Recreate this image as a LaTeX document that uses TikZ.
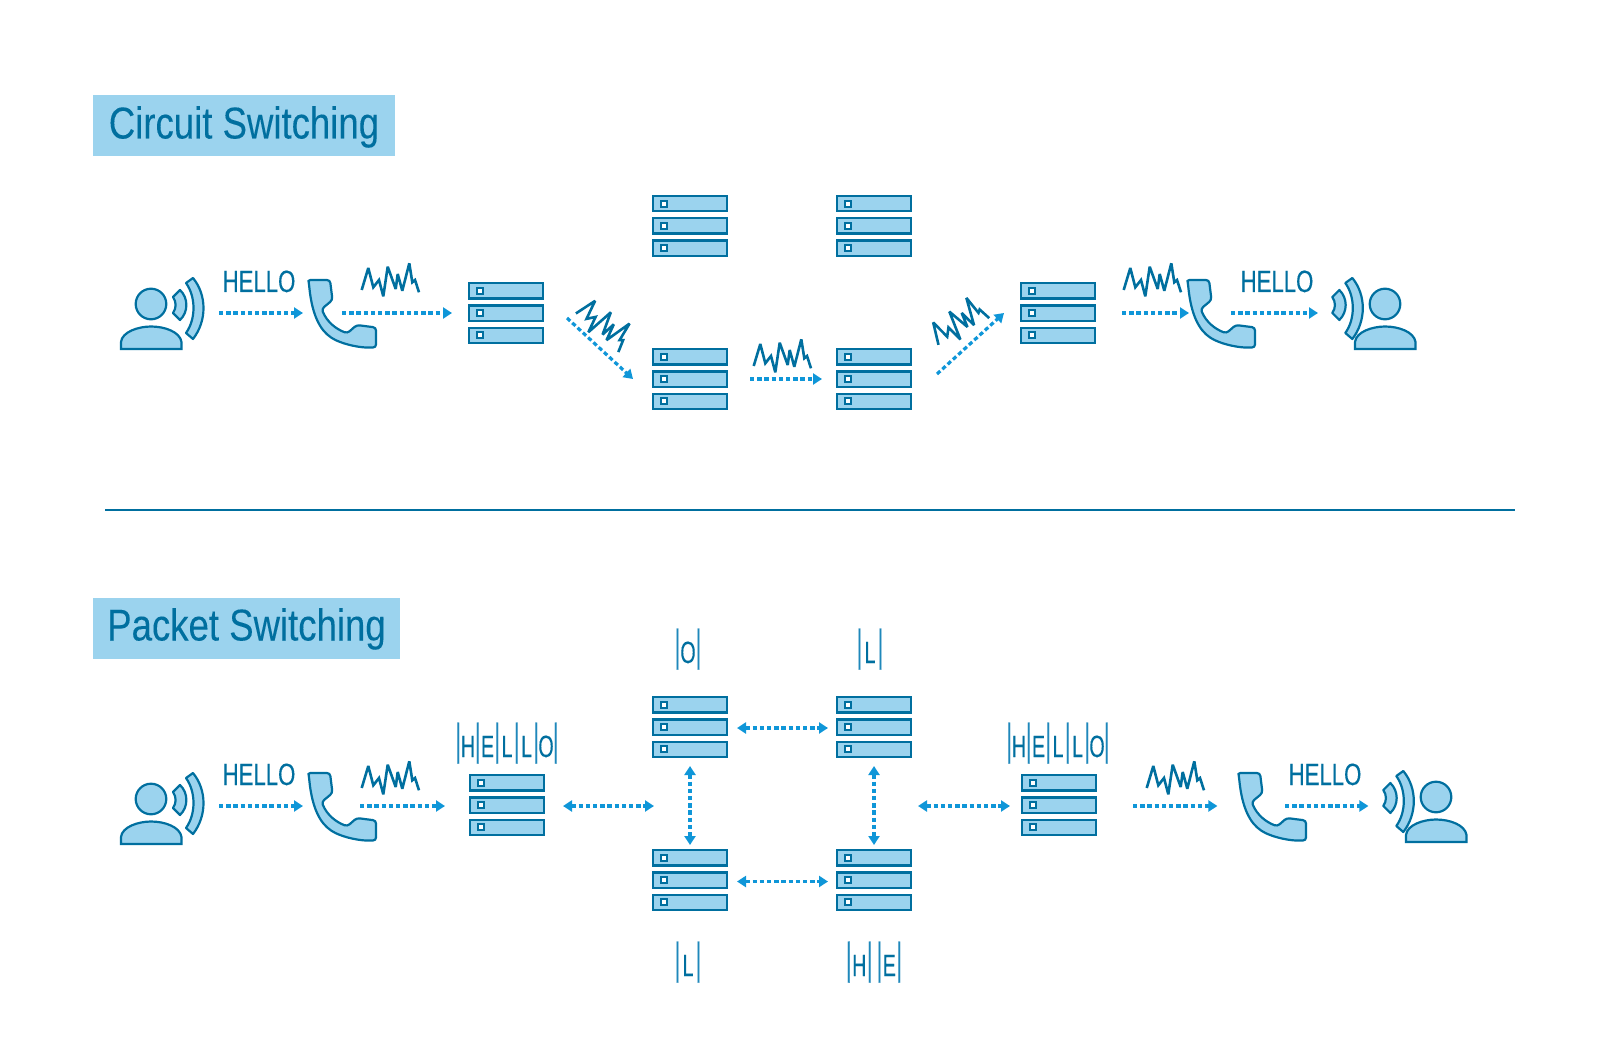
\documentclass[tikz,border=0pt]{standalone}
\usepackage{fontspec}
\usetikzlibrary{arrows.meta}
\newfontfamily\titlefont[FakeStretch=0.82,FakeBold=0.1]{Liberation Sans}
\newfontfamily\wordfont[FakeStretch=0.72,FakeBold=0.2]{Liberation Sans}
\newfontfamily\letterfont[FakeStretch=0.64,FakeBold=0.2]{Liberation Sans}
\newfontfamily\barfont[FakeStretch=0.5,FakeBold=0.2]{Liberation Sans}
\definecolor{darkblue}{HTML}{006F9F}
\definecolor{lightblue}{HTML}{9BD3EE}
\definecolor{flowblue}{HTML}{0F96D8}
\definecolor{barblue}{HTML}{1F88BB}
\newcommand{\pbar}{\raisebox{1.3pt}{\barfont\fontsize{22}{22}\selectfont\textcolor{barblue}{|}}}
\newcommand{\plet}[2][6.9pt]{\makebox[#1]{#2}}
\tikzset{
    iconline/.style={draw=darkblue, fill=lightblue, line width=1.1pt},
    flow/.style={draw=flowblue, line width=1.6pt, dash pattern=on 2.2pt off 1.4pt, -{Triangle[length=4.5pt,width=5.5pt]}},
    bothflow/.style={flow, {Triangle[length=4.5pt,width=5.5pt]}-{Triangle[length=4.5pt,width=5.5pt]}},
    heading/.style={fill=lightblue, text=darkblue, text height=21.5pt, text depth=9pt, inner sep=0pt, font=\titlefont\fontsize{22.3}{26}\selectfont},
    word/.style={anchor=base, text=darkblue, inner sep=0pt, font=\wordfont\fontsize{15.4}{18}\selectfont},
    packet/.style={anchor=base, text=darkblue, inner sep=0pt, font=\letterfont\fontsize{15.4}{18}\selectfont},
    iconbox/.style={minimum width=#1, minimum height=30pt, inner sep=0pt, outer sep=0pt},
    pics/serverstack/.style={code={
        \node[iconbox=38pt] (-box) at (0,0) {};
        \foreach \k in {-1,0,1}{
            \draw[iconline] (-37.2,\k*22.2-7.6) rectangle (37.2,\k*22.2+7.6);
            \draw[iconline, fill=white, line width=1.2pt] (-29,\k*22.2-3) rectangle (-23,\k*22.2+3);
        }
    }},
    pics/talker/.style={code={
        \node[iconbox=42pt] (-box) at (0,0) {};
        \draw[iconline] (-11,-9) circle (15.3);
        \draw[iconline] (-41,36) -- (-41,29) .. controls (-40,19) and (-24,13.5) .. (-11,13.5)
            .. controls (3,13.5) and (18,19) .. (19.5,29) -- (19.5,36) -- cycle;
        \begin{scope}[shift={(#1,0)}]
            \draw[iconline, line join=round] (11,-16) -- (18,-23) .. controls (26.5,-15) and (26.5,-1) .. (18,7) -- (11,0)
                .. controls (14.5,-5) and (14.5,-11) .. (11,-16) -- cycle;
            \draw[iconline, line join=round] (24,-30) -- (31,-35) .. controls (45,-18) and (45,8) .. (31,26) -- (24,20)
                .. controls (34,6) and (34,-16) .. (24,-30) -- cycle;
        \end{scope}
    }},
    pics/handset/.style={code={
        \node[iconbox=10pt] (-box) at (0,0) {};
        \draw[iconline, rounded corners=1.5pt] (-6,-33) -- (8,-33) -- (10.5,-13) -- (-0.3,-4)
            .. controls (5,9) and (14,16) .. (25.3,20.3) -- (34.7,12) -- (54,14.5) -- (54,34.5) -- (48,34.5)
            .. controls (38,34.5) and (24,32) .. (11.3,26) .. controls (-2,17) and (-10,2) .. (-13,-29)
            .. controls (-13.5,-32) and (-12,-33) .. (-8.5,-33) -- cycle;
    }},
    pics/noise/.style={code={
        \draw[draw=darkblue, line width=1.3pt, miter limit=3] (-28.3,10) -- (-21.7,-12) -- (-16.7,7.3) -- (-11,0) -- (-6.7,16.3)
            -- (-2.3,-13.3) -- (5.7,9) -- (7.7,-6) -- (12.3,10.7) -- (19.3,-16.7) -- (22.3,2.3) -- (25,0) -- (29,12.3);
    }}
}
\begin{document}
\begin{tikzpicture}[x=0.5pt,y=-0.5pt]
    \useasboundingbox (0,0) rectangle (1600,1059);
    \node[heading, minimum width=151pt] (circuit) at (244,126) {Circuit Switching};
    \node[heading, minimum width=153.5pt] (packet) at (246.5,628) {Packet Switching};
    \draw[draw=darkblue, line width=1pt] (105,510) -- (1515,510);

    \pic (userA) at (162,313) {talker=0};
    \pic (phoneA) at (322,313) {handset};
    \pic (srvA) at (506,313) {serverstack};
    \pic (srvB) at (690,226) {serverstack};
    \pic (srvC) at (874,226) {serverstack};
    \pic (srvD) at (690,379) {serverstack};
    \pic (srvE) at (874,379) {serverstack};
    \pic (srvF) at (1058,313) {serverstack};
    \pic (phoneB) at (1201,313) {handset};
    \pic (userB) at (1396,313) {talker=-74.7};
    \node[word] (helloA) at (259,292) {HELLO};
    \node[word] (helloB) at (1277,292) {HELLO};
    \pic at (390,280) {noise};
    \pic[rotate=-40] at (604,324) {noise};
    \pic at (782,356) {noise};
    \pic[rotate=30] at (958,322) {noise};
    \pic at (1152,280) {noise};
    \draw[flow] ([xshift=7.5pt]userA-box.east) -- ([xshift=-4.5pt]phoneA-box.west);
    \draw[flow] ([xshift=5pt]phoneA-box.east) -- ([xshift=-8pt]srvA-box.west);
    \draw[flow] ([shift={(23,5)}]srvA-box.east) -- ([shift={(-19,0)}]srvD-box.west);
    \draw[flow] ([xshift=11pt]srvD-box.east) -- ([xshift=-7pt]srvE-box.west);
    \draw[flow] ([shift={(25,-5)}]srvE-box.east) -- ([shift={(-16,0)}]srvF-box.west);
    \draw[flow] ([xshift=13pt]srvF-box.east) -- ([xshift=-1pt]phoneB-box.west);
    \draw[flow] ([xshift=10pt]phoneB-box.east) -- ([xshift=-18pt]userB-box.west);

    \pic (userC) at (162,808) {talker=0};
    \pic (phoneC) at (322,806) {handset};
    \pic (srvG) at (507,805) {serverstack};
    \pic (srvH) at (690,727) {serverstack};
    \pic (srvI) at (874,727) {serverstack};
    \pic (srvJ) at (690,880) {serverstack};
    \pic (srvK) at (874,880) {serverstack};
    \pic (srvL) at (1059,805) {serverstack};
    \pic (phoneD) at (1252,806) {handset};
    \pic (userD) at (1447,806) {talker=-74.7};
    \coordinate (hubL) at (654,806);
    \coordinate (hubR) at (918,806);
    \node[word] (helloC) at (259,785) {HELLO};
    \node[word] (helloD) at (1325,785) {HELLO};
    \node[packet] (pktA) at (507,757) {\pbar\plet{H}\pbar\plet{E}\pbar\plet{L}\pbar\plet{L}\pbar\plet{O}\pbar};
    \node[packet] (pktB) at (1058,757) {\pbar\plet{H}\pbar\plet{E}\pbar\plet{L}\pbar\plet{L}\pbar\plet{O}\pbar};
    \node[packet] (pktC) at (688,663) {\pbar\plet[7.6pt]{O}\pbar};
    \node[packet] (pktD) at (870,663) {\pbar\plet[7.6pt]{L}\pbar};
    \node[packet] (pktE) at (688,976) {\pbar\plet[7.6pt]{L}\pbar};
    \node[packet] (pktF) at (874,976) {\pbar\plet[7.6pt]{H}\pbar\hspace{2pt}\pbar\plet[7pt]{E}\pbar};
    \pic at (390,778) {noise};
    \pic at (1175,778) {noise};
    \draw[flow] ([shift={(15,-2)}]userC-box.east) -- ([xshift=-4.5pt]phoneC-box.west);
    \draw[flow] ([xshift=14pt]phoneC-box.east) -- ([xshift=-12pt]srvG-box.west |- phoneC-box.west);
    \draw[bothflow] ([shift={(18,1)}]srvG-box.east) -- (hubL);
    \draw[bothflow] (hubR) -- ([shift={(-11,1)}]srvL-box.west);
    \draw[bothflow] ([shift={(9,1)}]srvH-box.east) -- ([shift={(-8,1)}]srvI-box.west);
    \draw[bothflow] ([shift={(9,1.5)}]srvJ-box.east) -- ([shift={(-8,1.5)}]srvK-box.west);
    \draw[bothflow] ([yshift=-4.5pt]srvH-box.south) -- ([yshift=2.5pt]srvJ-box.north);
    \draw[bothflow] ([yshift=-4.5pt]srvI-box.south) -- ([yshift=2.5pt]srvK-box.north);
    \draw[flow] ([xshift=18pt]srvL-box.east |- phoneD-box.west) -- ([xshift=-12.3pt]phoneD-box.west);
    \draw[flow] ([xshift=11.5pt]phoneD-box.east) -- ([xshift=-18.3pt]userD-box.west);
\end{tikzpicture}
\end{document}
